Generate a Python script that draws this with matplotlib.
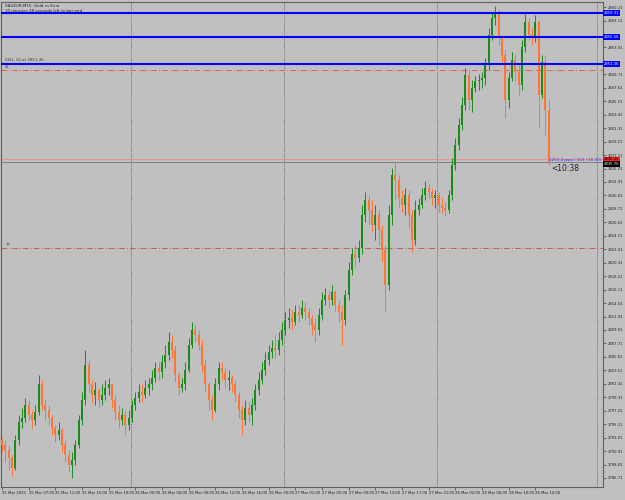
import numpy as np
import matplotlib
matplotlib.use("Agg")
import matplotlib.pyplot as plt

# XAUEUR M15 chart, shown as 30-minute candles (open = previous close)
first_open = 2792.7
close = [2791.9, 2791.1, 2789.9, 2788.3, 2792.7, 2795.5, 2796.1, 2798.1, 2796.6, 2795.8,
         2797.0, 2801.3, 2798.1, 2797.3, 2796.1, 2794.5, 2793.4, 2794.2, 2791.9, 2790.3,
         2788.8, 2789.5, 2791.9, 2795.8, 2798.9, 2804.4, 2801.3, 2799.7, 2800.5, 2798.9,
         2799.7, 2800.8, 2801.3, 2798.9, 2797.0, 2795.8, 2796.6, 2795.0, 2796.1, 2798.1,
         2799.2, 2800.1, 2799.7, 2800.8, 2801.3, 2802.3, 2803.9, 2803.3, 2804.8, 2805.9,
         2807.9, 2806.7, 2802.8, 2800.8, 2801.3, 2803.6, 2807.5, 2809.8, 2809.0, 2807.5,
         2804.4, 2801.3, 2798.9, 2797.3, 2801.3, 2803.9, 2803.3, 2802.0, 2802.3, 2801.3,
         2799.7, 2797.3, 2795.8, 2797.7, 2796.6, 2798.1, 2800.5, 2802.0, 2803.6, 2805.1,
         2806.4, 2807.0, 2806.7, 2808.3, 2809.8, 2811.4, 2811.7, 2811.1, 2812.6, 2812.2,
         2813.3, 2812.6, 2811.7, 2810.6, 2809.8, 2812.2, 2814.5, 2815.3, 2814.5, 2815.8,
         2813.7, 2812.6, 2811.4, 2815.3, 2819.2, 2821.6, 2821.1, 2822.6, 2827.8, 2830.1,
         2828.6, 2826.2, 2827.8, 2825.4, 2822.3, 2816.9, 2827.8, 2834.0, 2833.2, 2830.4,
         2829.3, 2830.9, 2827.8, 2823.9, 2828.6, 2829.3, 2830.9, 2832.0, 2831.4, 2830.4,
         2830.9, 2829.3, 2828.9, 2828.6, 2830.9, 2835.6, 2838.7, 2841.8, 2844.9, 2849.6,
         2845.7, 2847.6, 2848.6, 2848.9, 2849.2, 2851.2, 2855.9, 2858.5, 2859.5, 2855.4,
         2852.8, 2845.7, 2849.2, 2852.0, 2850.1, 2848.1, 2853.9, 2857.9, 2855.9, 2855.4,
         2857.9, 2846.5, 2851.7, 2844.2, 2836.0]
high = [2793.0, 2792.7, 2791.9, 2790.3, 2793.4, 2796.6, 2797.7, 2799.2, 2798.9, 2797.3,
        2798.1, 2802.8, 2802.0, 2798.9, 2798.1, 2796.6, 2795.0, 2795.5, 2794.5, 2792.7,
        2791.1, 2790.8, 2792.7, 2796.6, 2800.1, 2806.7, 2805.1, 2802.0, 2801.7, 2800.8,
        2801.3, 2802.0, 2802.3, 2801.6, 2799.7, 2798.1, 2797.7, 2797.3, 2797.3, 2798.9,
        2800.1, 2801.3, 2801.3, 2802.0, 2802.3, 2803.6, 2804.8, 2804.8, 2805.9, 2807.5,
        2809.5, 2809.0, 2807.5, 2803.3, 2802.3, 2804.8, 2808.6, 2811.1, 2810.6, 2809.8,
        2808.3, 2805.1, 2801.7, 2799.7, 2802.3, 2804.8, 2804.8, 2803.9, 2803.6, 2802.8,
        2802.0, 2800.1, 2798.1, 2798.9, 2798.6, 2799.2, 2801.3, 2803.3, 2804.8, 2806.4,
        2807.5, 2808.3, 2809.0, 2809.5, 2811.1, 2812.6, 2813.3, 2812.9, 2813.7, 2813.7,
        2814.5, 2814.2, 2813.3, 2812.2, 2811.7, 2813.3, 2815.8, 2816.4, 2816.1, 2816.9,
        2816.1, 2814.5, 2813.7, 2816.1, 2820.4, 2822.6, 2823.1, 2823.9, 2829.3, 2831.4,
        2830.9, 2830.1, 2829.3, 2828.6, 2826.2, 2823.1, 2829.3, 2835.1, 2836.0, 2834.0,
        2831.7, 2832.0, 2831.7, 2828.6, 2830.1, 2830.4, 2832.0, 2833.0, 2832.6, 2832.0,
        2831.7, 2831.4, 2830.4, 2829.8, 2831.7, 2836.7, 2839.8, 2842.9, 2846.1, 2850.7,
        2850.4, 2848.9, 2849.5, 2849.8, 2850.1, 2852.3, 2857.0, 2859.5, 2860.4, 2859.8,
        2855.4, 2853.5, 2850.1, 2853.2, 2852.8, 2851.2, 2855.1, 2859.2, 2858.5, 2857.0,
        2859.0, 2858.2, 2852.8, 2852.8, 2845.7]
low = [2790.8, 2789.2, 2788.0, 2787.0, 2788.0, 2791.9, 2794.5, 2795.5, 2795.8, 2794.5,
       2795.0, 2796.6, 2797.3, 2795.8, 2795.0, 2793.4, 2792.3, 2792.7, 2790.8, 2789.2,
       2787.7, 2786.7, 2788.8, 2791.4, 2795.0, 2798.1, 2800.1, 2798.6, 2798.1, 2797.7,
       2798.1, 2798.9, 2799.7, 2797.7, 2795.8, 2794.5, 2795.0, 2793.4, 2794.2, 2795.5,
       2797.3, 2798.6, 2798.6, 2799.2, 2799.7, 2800.5, 2801.7, 2802.0, 2802.3, 2803.9,
       2805.1, 2805.5, 2801.7, 2799.7, 2800.1, 2800.5, 2803.3, 2807.0, 2807.9, 2806.7,
       2803.3, 2800.1, 2797.3, 2795.8, 2797.0, 2800.5, 2802.0, 2800.8, 2800.5, 2800.1,
       2798.6, 2796.1, 2793.4, 2795.0, 2795.5, 2795.0, 2797.3, 2799.7, 2801.3, 2802.8,
       2804.4, 2805.5, 2805.5, 2805.9, 2807.5, 2809.0, 2810.1, 2809.8, 2810.6, 2811.1,
       2811.7, 2811.4, 2810.6, 2809.0, 2807.9, 2809.0, 2811.4, 2813.7, 2813.3, 2813.7,
       2812.6, 2811.1, 2807.5, 2810.6, 2814.5, 2818.4, 2819.6, 2820.4, 2821.6, 2826.7,
       2826.2, 2825.1, 2823.9, 2823.1, 2820.4, 2812.6, 2816.1, 2826.2, 2830.1, 2828.9,
       2828.3, 2827.8, 2825.7, 2822.0, 2823.1, 2827.8, 2828.9, 2830.1, 2830.4, 2829.3,
       2828.9, 2828.3, 2828.0, 2827.6, 2828.0, 2830.1, 2834.8, 2837.9, 2841.0, 2844.2,
       2844.2, 2843.9, 2847.0, 2847.3, 2847.6, 2848.1, 2850.4, 2855.1, 2857.4, 2854.3,
       2851.7, 2842.9, 2844.5, 2848.6, 2848.6, 2846.5, 2847.3, 2853.2, 2855.1, 2854.3,
       2854.8, 2841.4, 2846.0, 2840.3, 2835.6]

time_labels = ["25 Mar 2025", "25 Mar 07:00", "25 Mar 11:00", "25 Mar 15:00", "25 Mar 19:00",
               "26 Mar 00:00", "26 Mar 04:00", "26 Mar 08:00", "26 Mar 12:00", "26 Mar 16:00",
               "26 Mar 20:00", "27 Mar 01:00", "27 Mar 05:00", "27 Mar 09:00", "27 Mar 13:00",
               "27 Mar 17:00", "27 Mar 21:00", "28 Mar 02:00", "28 Mar 06:00", "28 Mar 10:00",
               "28 Mar 14:00"]
price_ticks = [2786.71, 2788.81, 2790.91, 2793.01, 2795.11, 2797.21, 2799.31, 2801.41,
               2803.51, 2805.61, 2807.71, 2809.81, 2811.91, 2814.01, 2816.11, 2818.21,
               2820.31, 2822.41, 2824.51, 2826.61, 2828.71, 2830.81, 2832.91, 2835.01,
               2837.11, 2839.21, 2841.31, 2843.41, 2845.51, 2847.61, 2849.71, 2851.81,
               2853.91, 2856.01, 2858.11, 2860.21]

blue_levels = [2859.31, 2855.56, 2851.36]
sl_level = 2850.41
tp_level = 2822.62
ask_price = 2836.45

close = np.array(close)
opens = np.concatenate([[first_open], close[:-1]])
high = np.maximum(np.array(high), np.maximum(opens, close))
low = np.minimum(np.array(low), np.minimum(opens, close))
idx = np.arange(len(close))
bid_price = close[-1]

bg = "#c0c0c0"
up_col = "#1a8c1a"
down_col = "#ff7433"

fig = plt.figure(figsize=(6.25, 5), dpi=100, facecolor=bg)
ax = fig.add_axes([1 / 625, 13 / 500, 602 / 625, 485 / 500], facecolor=bg)
ax.set_xlim(-0.3, 180.3)
ax.set_ylim(2785.3, 2861.0)

# vertical dotted grid
for gx in [38.7, 84.6, 130.5, 178.5]:
    ax.axvline(gx, color="#505050", ls=(0, (1, 1.5)), lw=0.6, zorder=1)

# candles
colors = np.where(close >= opens, up_col, down_col)
ax.vlines(idx, low, high, colors=colors, lw=0.7, zorder=3)
body_lo = np.minimum(opens, close)
body_h = np.maximum(np.abs(close - opens), 0.12)
ax.bar(idx, body_h, bottom=body_lo, width=0.6, color=colors, lw=0, zorder=3)

# order / level lines
for lv in blue_levels:
    ax.axhline(lv, color="#0000ff", lw=1.5, zorder=4)
ax.axhline(sl_level, color="#e06060", lw=0.7, ls=(0, (6, 2, 1, 2)), zorder=2)
ax.axhline(tp_level, color="#c06060", lw=0.7, ls=(0, (6, 2, 1, 2)), zorder=2)
ax.axhline(ask_price, color="#e89090", lw=0.7, zorder=2)
ax.axhline(bid_price, color="#808080", lw=0.7, zorder=2)

# price boxes on the right scale hide the scale labels underneath them
box_prices = blue_levels + [ask_price, bid_price - 0.3]
shown = [p for p in price_ticks if min(abs(p - b) for b in box_prices) > 0.65]

# axes styling
for s in ax.spines.values():
    s.set_color("#606060")
    s.set_linewidth(0.8)
ax.yaxis.tick_right()
ax.set_yticks(shown, ["%.2f" % p for p in shown])
ax.set_xticks(idx[::8][:len(time_labels)], time_labels, ha="left")
ax.tick_params(axis="both", direction="out", length=2, width=0.5, color="#404040",
               labelsize=2.7, pad=1.2, labelcolor="#202020")

ytr = ax.get_yaxis_transform()
ax.text(0.006, 0.996, "XAUEUR,M15: Gold vs Euro", transform=ax.transAxes,
        fontsize=2.9, va="top", ha="left", color="#202020")
ax.text(0.006, 0.986, "10 minutes 38 seconds left to bar end", transform=ax.transAxes,
        fontsize=2.9, va="top", ha="left", color="#202020")
ax.text(0.006, blue_levels[2] + 0.3, "SELL 10 at 2851.36", transform=ytr,
        fontsize=2.9, va="bottom", ha="left", color="#404040")
ax.text(0.006, sl_level + 0.1, "SL", transform=ytr, fontsize=2.9, va="bottom",
        ha="left", color="#404040")
ax.text(0.006, tp_level + 0.2, "TP", transform=ytr, fontsize=2.9, va="bottom",
        ha="left", color="#404040")
ax.text(0.997, bid_price + 0.05, "1250.4 pips / 153 / 16.3%", transform=ytr,
        fontsize=3.0, va="bottom", ha="right", color="#3030ff")
ax.text(164.7, 2835.0, "<10:38", fontsize=5.5, va="center", ha="left", color="#202020")


def price_box(price, face, txt_col="white"):
    ax.text(1.002, price, "%.2f" % price, transform=ytr, fontsize=2.7, va="center",
            ha="left", color=txt_col, zorder=6, clip_on=False,
            bbox=dict(boxstyle="square,pad=0.2", fc=face, ec="none"))


for lv in blue_levels:
    price_box(lv, "#0000ff")
price_box(ask_price, "#ff2020", "black")
price_box(bid_price - 0.3, "#000000")

fig.savefig("out.png", dpi=100, facecolor=bg)
